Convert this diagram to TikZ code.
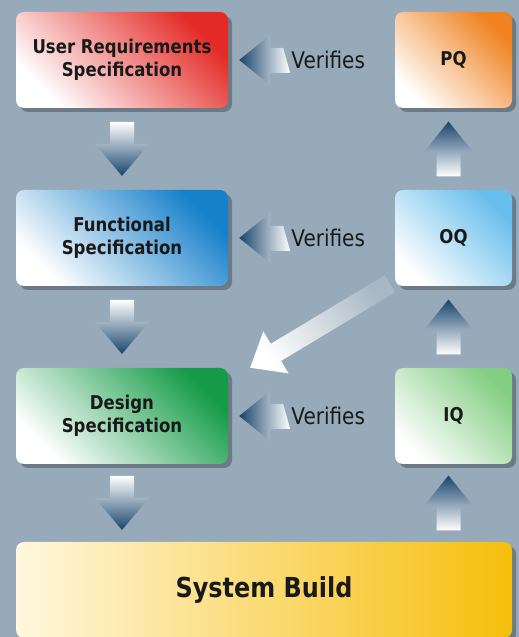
\documentclass[tikz,border=0pt]{standalone}
\usepackage{fontspec}
\newfontfamily\vfont[FakeStretch=0.87]{DejaVu Sans}
\usepackage{tikz}
\usetikzlibrary{calc}
\usetikzlibrary{shadows}

\definecolor{bgblue}{RGB}{151,170,186}
\definecolor{shadowgray}{RGB}{108,121,134}
\definecolor{arrowblue}{RGB}{24,68,108}
\definecolor{midblue}{RGB}{138,160,180}
\definecolor{ursred}{RGB}{228,42,38}
\definecolor{pqorange}{RGB}{240,130,32}
\definecolor{fsblue}{RGB}{22,128,202}
\definecolor{oqblue}{RGB}{104,190,236}
\definecolor{dsgreen}{RGB}{22,156,72}
\definecolor{iqgreen}{RGB}{132,206,132}
\definecolor{sbyellow}{RGB}{246,190,12}
\definecolor{sbcream}{RGB}{255,247,222}

\tikzset{
  vbox/.style={rounded corners=8pt, inner sep=0pt, align=center, text=black!90,
    minimum height=96pt, font=\vfont\bfseries\fontsize{19}{23}\selectfont,
    drop shadow={shadow xshift=4pt, shadow yshift=-4pt, fill=shadowgray, opacity=1}},
  leftbox/.style={vbox, minimum width=212pt},
  rightbox/.style={vbox, minimum width=117pt},
  fade/.style={top color=#1, bottom color=white, shading angle=-45},
  verify/.style={inner sep=0pt, anchor=west, text=black!90,
    font=\vfont\fontsize{23}{27}\selectfont},
}

\begin{document}
\begin{tikzpicture}[x=1pt,y=1pt]
  \useasboundingbox (0,0) rectangle (519,637);
  \fill[bgblue] (0,0) rectangle (519,637);

  % specification side
  \node[leftbox, fade=ursred] (urs) at (122,577) {User Requirements\\Specification};
  \node[leftbox, fade=fsblue] (fs) at (122,399) {Functional\\Specification};
  \node[leftbox, fade=dsgreen] (ds) at (122,221) {Design\\Specification};

  % qualification side
  \node[rightbox, fade=pqorange] (pq) at (453.5,577) {PQ};
  \node[rightbox, fade=oqblue] (oq) at (453.5,399) {OQ};
  \node[rightbox, fade=iqgreen] (iq) at (453.5,221) {IQ};

  \node[vbox, minimum width=496pt, left color=sbcream, right color=sbyellow,
    font=\vfont\bfseries\fontsize{27.5}{32}\selectfont] (sb) at (264,47) {System Build};

  % down arrows
  \foreach \a/\b in {urs/fs,fs/ds,ds/sb} {
    \coordinate (m) at ($(\a.south)!0.5!(\a.south|-\b.north)$);
    \shade[top color=white, middle color=midblue, bottom color=arrowblue]
      ($(m)+(-12,27)$) -- ++(24,0) -- ++(0,-22) -- ++(15,0) -- ($(m)+(0,-27)$)
      -- ($(m)+(-27,5)$) -- ++(15,0) -- cycle;
  }

  % up arrows
  \foreach \a/\b in {sb/iq,iq/oq,oq/pq} {
    \coordinate (m) at ($(\b.south)!0.5!(\b.south|-\a.north)+(-5,0)$);
    \shade[top color=arrowblue, middle color=midblue, bottom color=white]
      ($(m)+(0,27.5)$) -- ++(25,-31) -- ++(-13,0) -- ++(0,-24) -- ++(-24,0)
      -- ++(0,24) -- ++(-13,0) -- cycle;
  }

  % verifies arrows
  \foreach \row in {urs,fs,ds} {
    \shade[left color=arrowblue, right color=white]
      ($(\row.east)+(11,0)$) -- ++(31,25) -- ++(0,-13) -- ++(13,0) -- ++(7,-25)
      -- ++(-20,0) -- ++(0,-12) -- cycle;
    \node[verify] (v\row) at ($(\row.east)+(63,0)$) {Verifies};
  }

  % oq back to design
  \coordinate (tip) at ($(ds.north east)+(22,0)$);
  \shade[top color=bgblue!85!white, bottom color=white, shading angle=-59,
    shift={(tip)}, rotate=31]
    (0,0) -- (30,24.5) -- (30,10) -- (163,10) -- (163,-10) -- (30,-10)
    -- (30,-24.5) -- cycle;
\end{tikzpicture}
\end{document}
